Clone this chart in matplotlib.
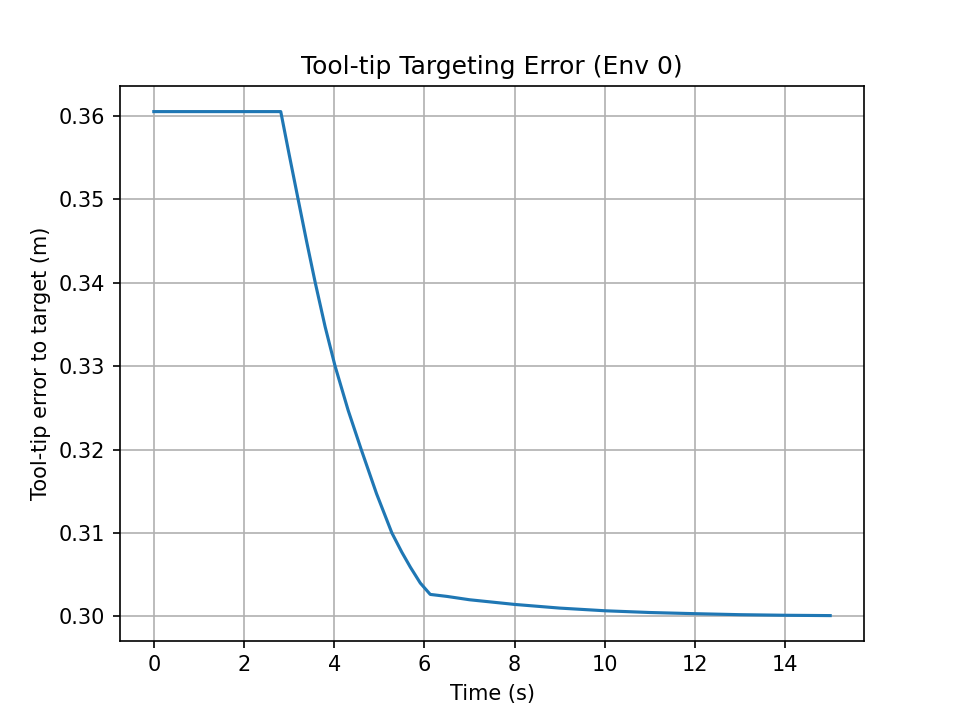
import numpy as np
import matplotlib
matplotlib.use("Agg")
import matplotlib.pyplot as plt

time_s = [0.0, 1.0, 2.0, 2.5, 2.815, 3.0, 3.2, 3.39, 3.58, 3.8, 4.02, 4.31, 4.6, 4.94,
          5.28, 5.5, 5.69, 5.91, 6.13,
          6.5, 7.0, 8.0, 9.0, 10.0, 11.0, 12.0, 13.0, 14.0, 15.0]
error_m = [0.3605, 0.3605, 0.3605, 0.3605, 0.3605, 0.3554, 0.35, 0.3449, 0.34, 0.3347, 0.33, 0.3247, 0.32, 0.3147,
           0.31, 0.3077, 0.3059, 0.3040, 0.30264,
           0.3024, 0.3020, 0.30144, 0.30100, 0.30068, 0.30047, 0.30033, 0.30021, 0.30014, 0.30010]

plt.figure(figsize=(6.4, 4.8), dpi=150)
plt.plot(time_s, error_m)
plt.title("Tool-tip Targeting Error (Env 0)")
plt.xlabel("Time (s)")
plt.ylabel("Tool-tip error to target (m)")
plt.grid(True)
plt.savefig("out.png", dpi=150)
